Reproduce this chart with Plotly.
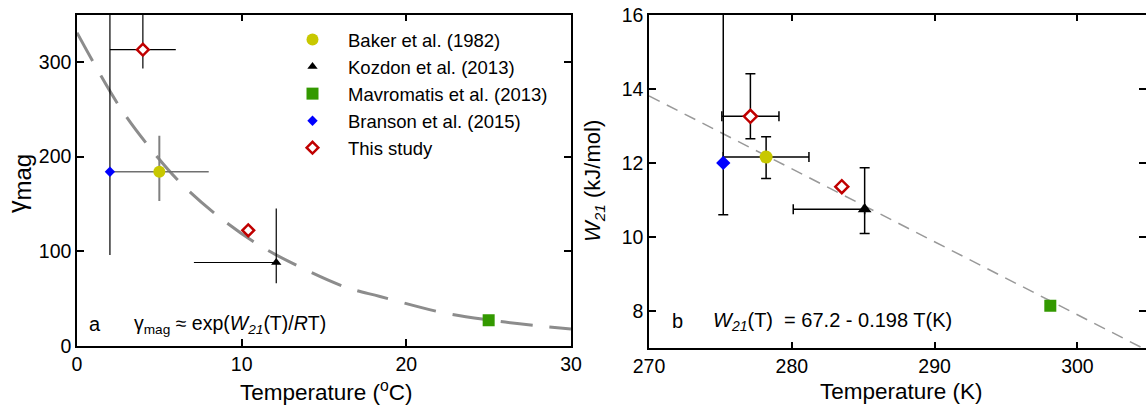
import plotly.graph_objects as go

# ---------------- data ----------------
# Panel a: gamma_mag vs temperature (deg C)
baker_T_c = [5.0];      baker_g = [184]
baker_g_plus = [38];    baker_g_minus = [31];  baker_Tc_err = [3.0]
kozdon_T_c = [12.1];    kozdon_g = [88]
kozdon_g_plus = [57];   kozdon_g_minus = [22]; kozdon_Tc_minus = [5.0]; kozdon_Tc_plus = [0.0]
mavro_T_c = [25.0];     mavro_g = [27]
branson_T_c = [2.0];    branson_g = [184]
branson_g_plus = [200]; branson_g_minus = [88]
study_T_c = [4.0, 10.4]; study_g = [313, 122]
study_g_plus = [60, 0];  study_g_minus = [20, 0]; study_Tc_err = [2.0, 0.0]

# fitted curve gamma_mag ~ exp(W21(T)/RT)
curve_T_c = [0, 2.5, 4.3, 6.3, 8.5, 10.9, 13.1, 16.3, 18.4, 22.2, 25.1, 28.0, 30.0]
curve_g = [331, 255, 212, 172, 138, 108, 87, 62, 52, 35, 27, 21, 17.6]

# Panel b: W21 vs temperature (K)
baker_T_k = [278.2];    baker_W = [12.16]
baker_W_plus = [0.55];  baker_W_minus = [0.58]; baker_Tk_err = [3.0]
kozdon_T_k = [285.1];   kozdon_W = [10.75]
kozdon_W_plus = [1.12]; kozdon_W_minus = [0.65]; kozdon_Tk_minus = [5.0]; kozdon_Tk_plus = [0.0]
mavro_T_k = [298.1];    mavro_W = [8.15]
branson_T_k = [275.2];  branson_W = [12.0]
branson_W_plus = [5.0]; branson_W_minus = [1.4]
study_T_k = [277.1, 283.5]; study_W = [13.26, 11.36]
study_W_plus = [1.15, 0];   study_W_minus = [0.61, 0]; study_Tk_err = [2.0, 0.0]

# linear fit W21(T) = 67.2 - 0.198 T, endpoints
fit_T_k = [270, 304.8]
fit_W = [13.81, 6.96]

names = ["Baker et al. (1982)", "Kozdon et al. (2013)", "Mavromatis et al. (2013)",
         "Branson et al. (2015)", "This study"]

# ---------------- styles ----------------
YELLOW = "#c8c800"
GREEN = "#339900"
BLUE = "#0000ff"
RED = "#c00000"
FONT = "Liberation Sans, Arial, Helvetica, sans-serif"

fig = go.Figure()

def ebar(plus, minus, color="black", thick=1.2, width=0):
    return dict(type="data", symmetric=False, array=plus, arrayminus=minus,
                color=color, thickness=thick, width=width, visible=True)

# ---------- panel a ----------
fig.add_trace(go.Scatter(x=curve_T_c, y=curve_g, mode="lines", line_shape="spline",
                         line=dict(color="#8c8c8c", width=3, dash="32px,17px"),
                         showlegend=False, xaxis="x", yaxis="y", hoverinfo="skip"))

fig.add_trace(go.Scatter(x=baker_T_c, y=baker_g, mode="markers", name=names[0], legendgroup="b",
                         marker=dict(symbol="circle", size=12, color=YELLOW),
                         error_x=ebar(baker_Tc_err, baker_Tc_err, "#707070", 1.5),
                         error_y=ebar(baker_g_plus, baker_g_minus, "#808080", 2),
                         xaxis="x", yaxis="y"))
fig.add_trace(go.Scatter(x=kozdon_T_c, y=kozdon_g, mode="markers", name=names[1], legendgroup="k",
                         marker=dict(symbol="triangle-up", size=9, color="black"),
                         error_x=ebar(kozdon_Tc_plus, kozdon_Tc_minus),
                         error_y=ebar(kozdon_g_plus, kozdon_g_minus),
                         xaxis="x", yaxis="y"))
fig.add_trace(go.Scatter(x=mavro_T_c, y=mavro_g, mode="markers", name=names[2], legendgroup="m",
                         marker=dict(symbol="square", size=12, color=GREEN),
                         xaxis="x", yaxis="y"))
fig.add_trace(go.Scatter(x=branson_T_c, y=branson_g, mode="markers", name=names[3], legendgroup="br",
                         marker=dict(symbol="diamond", size=8, color=BLUE),
                         error_y=ebar(branson_g_plus, branson_g_minus),
                         xaxis="x", yaxis="y"))
fig.add_trace(go.Scatter(x=study_T_c, y=study_g, mode="markers", name=names[4], legendgroup="s",
                         marker=dict(symbol="diamond", size=9, color="white",
                                     line=dict(color=RED, width=2.5)),
                         error_x=ebar(study_Tc_err, study_Tc_err),
                         error_y=ebar(study_g_plus, study_g_minus),
                         xaxis="x", yaxis="y"))

# ---------- panel b ----------
fig.add_trace(go.Scatter(x=fit_T_k, y=fit_W, mode="lines",
                         line=dict(color="#999999", width=1.5, dash="12px,8px"),
                         showlegend=False, xaxis="x2", yaxis="y2", hoverinfo="skip"))
fig.add_trace(go.Scatter(x=baker_T_k, y=baker_W, mode="markers", legendgroup="b", showlegend=False,
                         marker=dict(symbol="circle", size=13, color=YELLOW),
                         error_x=ebar(baker_Tk_err, baker_Tk_err, "black", 1.5, 5),
                         error_y=ebar(baker_W_plus, baker_W_minus, "black", 1.5, 5),
                         xaxis="x2", yaxis="y2"))
fig.add_trace(go.Scatter(x=kozdon_T_k, y=kozdon_W, mode="markers", legendgroup="k", showlegend=False,
                         marker=dict(symbol="triangle-up", size=12, color="black"),
                         error_x=ebar(kozdon_Tk_plus, kozdon_Tk_minus, "black", 1.5, 5),
                         error_y=ebar(kozdon_W_plus, kozdon_W_minus, "black", 1.5, 5),
                         xaxis="x2", yaxis="y2"))
fig.add_trace(go.Scatter(x=mavro_T_k, y=mavro_W, mode="markers", legendgroup="m", showlegend=False,
                         marker=dict(symbol="square", size=12, color=GREEN),
                         xaxis="x2", yaxis="y2"))
fig.add_trace(go.Scatter(x=branson_T_k, y=branson_W, mode="markers", legendgroup="br", showlegend=False,
                         marker=dict(symbol="diamond", size=11, color=BLUE),
                         error_y=ebar(branson_W_plus, branson_W_minus, "black", 1.5, 5),
                         xaxis="x2", yaxis="y2"))
fig.add_trace(go.Scatter(x=study_T_k, y=study_W, mode="markers", legendgroup="s", showlegend=False,
                         marker=dict(symbol="diamond", size=10, color="white",
                                     line=dict(color=RED, width=2.5)),
                         error_x=ebar(study_Tk_err, study_Tk_err, "black", 1.5, 5),
                         error_y=ebar(study_W_plus, study_W_minus, "black", 1.5, 5),
                         xaxis="x2", yaxis="y2"))

axis_common = dict(showline=True, linecolor="black", linewidth=1.5, mirror="ticks",
                   ticks="inside", ticklen=7, tickwidth=1.5, tickcolor="black",
                   showgrid=False, zeroline=False, automargin=False,
                   tickfont=dict(family=FONT, size=19.5, color="black"))

W = 1146.0
H = 409.0
fig.update_layout(
    template="none",
    width=1146, height=409,
    margin=dict(l=0, r=0, t=0, b=0, pad=0, autoexpand=False),
    paper_bgcolor="white", plot_bgcolor="white",
    font=dict(family=FONT, size=18, color="black"),
    xaxis=dict(domain=[77 / W, 571 / W], range=[0, 30], tickvals=[0, 10, 20, 30],
               anchor="y", **axis_common),
    yaxis=dict(domain=[1 - 345.7 / H, 1 - 14.7 / H], range=[0, 350],
               tickvals=[0, 100, 200, 300], anchor="x", **axis_common),
    xaxis2=dict(domain=[649 / W, 1.0], range=[270, 304.8], tickvals=[270, 280, 290, 300],
                anchor="y2", **axis_common),
    yaxis2=dict(domain=[1 - 348.3 / H, 1 - 14.7 / H], range=[7, 16],
                tickvals=[8, 10, 12, 14, 16], anchor="x2", **axis_common),
    showlegend=True,
    legend=dict(x=277 / W, y=1 - 21 / H, xanchor="left", yanchor="top",
                bgcolor="rgba(0,0,0,0)", borderwidth=0, itemwidth=61,
                font=dict(family=FONT, size=18.5, color="black"),
                tracegroupgap=0),
)

ann = [
    # axis titles
    dict(text="Temperature (<sup>o</sup>C)", x=326 / W, y=1 - 391 / H, font_size=22.5),
    dict(text="Temperature (K)", x=901 / W, y=1 - 391 / H, font_size=22.5),
    dict(text="γ<sub><span style='font-size:24px'>mag</span></sub>", x=19 / W, y=1 - 184 / H,
         font_size=25, textangle=-90),
    dict(text="<i>W<sub>21</sub></i> (kJ/mol)", x=594 / W, y=1 - 181 / H, font_size=22, textangle=-90),
    # panel labels & formulas
    dict(text="a", x=95 / W, y=1 - 324 / H, font_size=20),
    dict(text="γ<sub>mag</sub> ≈ exp(<i>W<sub>21</sub></i>(T)/<i>R</i>T)", x=230 / W, y=1 - 324 / H, font_size=19.5),
    dict(text="b", x=677 / W, y=1 - 321 / H, font_size=20),
    dict(text="<i>W<sub>21</sub></i>(T) &nbsp;= 67.2 - 0.198 T(K)", x=832 / W, y=1 - 321 / H, font_size=20),
]
for a in ann:
    fs = a.pop("font_size")
    fig.add_annotation(xref="paper", yref="paper", showarrow=False,
                       xanchor="center", yanchor="middle",
                       font=dict(family=FONT, size=fs, color="black"), **a)

fig.write_html("out.html", config={"displayModeBar": False})
